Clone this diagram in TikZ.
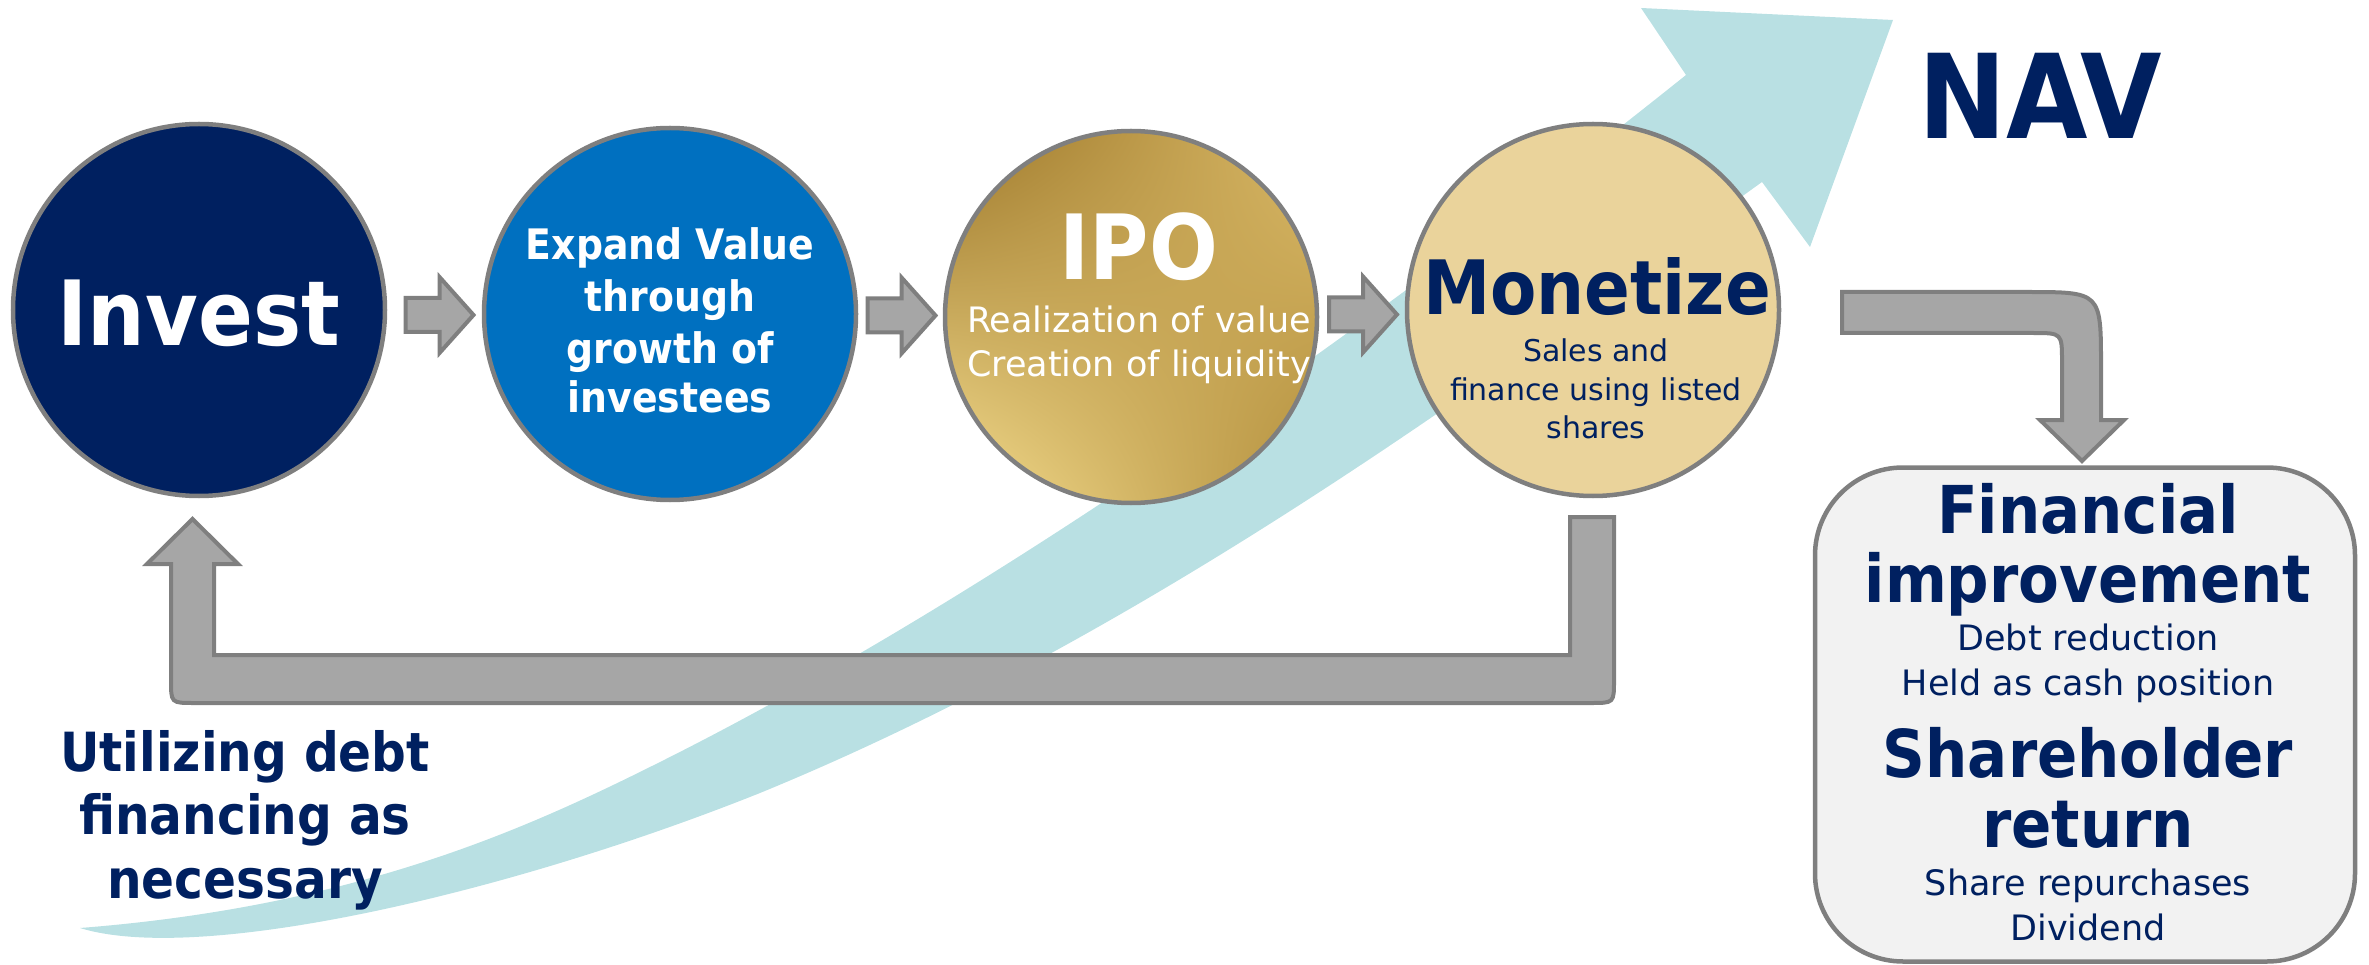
\documentclass[tikz,border=0pt]{standalone}
\usepackage{fontspec}
\setmainfont{DejaVu Sans}
\newfontfamily\hbf[FakeStretch=0.9]{DejaVu Sans}
\usetikzlibrary{calc,shadings}
\definecolor{navy}{HTML}{002060}
\definecolor{midblue}{HTML}{0070C0}
\definecolor{bandteal}{HTML}{B9E0E3}
\definecolor{montan}{HTML}{EAD39B}
\definecolor{arrfill}{HTML}{A6A6A6}
\definecolor{arrline}{HTML}{7F7F7F}
\definecolor{boxfill}{HTML}{F2F2F2}
\tikzset{
  stage/.style={circle, draw=arrline, line width=4.5pt, minimum size=372pt, inner sep=0pt},
  grayarrow/.style={fill=arrfill, draw=arrline, line width=4pt, line join=miter},
  lbl/.style={anchor=base, inner sep=0pt, outer sep=0pt},
  hd/.style={lbl, font=\hbf\bfseries\fontsize{#1}{#1}\selectfont},
  rg/.style={lbl, font=\fontsize{#1}{#1}\selectfont},
  rarrow/.pic={\path[grayarrow] (-34,-17) -- (0,-17) -- (0,-38) -- (34,0) -- (0,38) -- (0,17) -- (-34,17) -- cycle;}
}
\begin{document}
\begin{tikzpicture}[x=1pt,y=-1pt]
\useasboundingbox (0,0) rectangle (2369,965);

% rising teal band
\fill[bandteal] (80,928) .. controls (360,906) and (530,827) .. (660,762)
  .. controls (1060,562) and (1486,235) .. (1686,75)
  -- (1641,8) -- (1893,20) -- (1810,247) -- (1762,182)
  .. controls (1512,362) and (1160,629) .. (760,793)
  .. controls (510,893) and (200,965) .. (80,928) -- cycle;

% feedback arrow
\path[grayarrow] (1570,517) -- (1570,655) -- (214,655) -- (214,564) -- (238,564)
  -- (192.5,519) -- (147,564) -- (171,564) -- (171,680) .. controls (171,703) .. (194,703)
  -- (1591,703) .. controls (1614,703) .. (1614,680) -- (1614,517) -- cycle;

% stages
\node[stage, fill=navy] (inv) at (199,310) {};
\node[stage, fill=midblue] (exp) at (670,314) {};
\node[stage, upper left={rgb,255:red,156;green,118;blue,40}, upper right={rgb,255:red,218;green,186;blue,104},
      lower left={rgb,255:red,247;green,224;blue,146}, lower right={rgb,255:red,178;green,142;blue,60}] (ipo) at (1131,317) {};
\node[stage, fill=montan] (mon) at (1593,310) {};

\pic at ($(inv.east)!0.5!(exp.west)+(5,3)$) {rarrow};
\pic at ($(exp.east)!0.5!(ipo.west)+(1,0)$) {rarrow};
\pic at ($(ipo.east)!0.5!(mon.west)+(1,1)$) {rarrow};

% arrow to results box
\path[grayarrow] (1842,292) -- (2027,292) .. controls (2101,292) .. (2101,366) -- (2101,420)
  -- (2124,420) -- (2082,461) -- (2040,420) -- (2062,420) -- (2062,362)
  .. controls (2062,333) .. (2033,333) -- (1842,333) -- cycle;

\node[draw=arrline, fill=boxfill, line width=4.5pt, rounded corners=88pt,
      minimum width=540pt, minimum height=494pt, inner sep=0pt] (box) at (2085,714.5) {};

% texts
\node[hd=90, text=white] (tinv) at (199,346) {Invest};

\node[hd=42, text=white] (te1) at (670,260) {Expand Value};
\node[hd=42, text=white] (te2) at (670,312) {through};
\node[hd=42, text=white] (te3) at (670,363) {growth of};
\node[hd=42, text=white] (te4) at (670,413) {investees};

\node[hd=90, text=white] (tipo) at (1139,280) {IPO};
\node[rg=35, text=white] (ti1) at (1139,333) {Realization of value};
\node[rg=35, text=white] (ti2) at (1139,377) {Creation of liquidity};

\node[hd=75, text=navy] (tmon) at (1597,315) {Monetize};
\node[rg=30, text=navy] (tm1) at (1596,362) {Sales and};
\node[rg=30, text=navy] (tm2) at (1596,400) {finance using listed};
\node[rg=30, text=navy] (tm3) at (1596,438) {shares};

\node[hd=117, text=navy] (nav) at (2040,139) {NAV};

\node[hd=66, text=navy] (b1) at (2088,533) {Financial};
\node[hd=66, text=navy] (b2) at (2088,602) {improvement};
\node[rg=35, text=navy] (b3) at (2088,650) {Debt reduction};
\node[rg=35, text=navy] (b4) at (2088,695) {Held as cash position};
\node[hd=66, text=navy] (b5) at (2088,777) {Shareholder};
\node[hd=66, text=navy] (b6) at (2088,847) {return};
\node[rg=35, text=navy] (b7) at (2088,895) {Share repurchases};
\node[rg=35, text=navy] (b8) at (2088,940) {Dividend};

\node[hd=54, text=navy] (u1) at (245,771) {Utilizing debt};
\node[hd=54, text=navy] (u2) at (245,834) {financing as};
\node[hd=54, text=navy] (u3) at (245,898) {necessary};
\end{tikzpicture}
\end{document}
